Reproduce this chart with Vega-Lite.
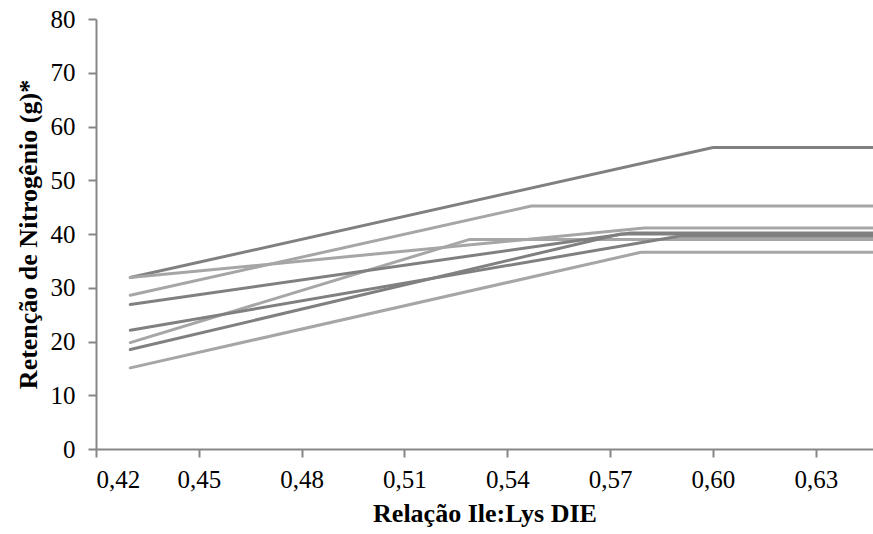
{
  "$schema": "https://vega.github.io/schema/vega-lite/v6.json",
  "width": 777,
  "height": 430,
  "autosize": {"type": "none"},
  "padding": {"left": 96, "top": 19, "right": 0, "bottom": 85},
  "background": "white",
  "config": {
    "view": {"stroke": null},
    "font": "Liberation Serif",
    "axis": {
      "grid": false,
      "domainColor": "#878787",
      "domainWidth": 2,
      "tickColor": "#878787",
      "tickWidth": 2,
      "tickSize": 8,
      "labelFont": "Liberation Serif",
      "labelFontSize": 25,
      "labelColor": "#000000",
      "titleFont": "Liberation Serif",
      "titleFontSize": 26,
      "titleFontWeight": "bold",
      "titleColor": "#000000"
    }
  },
  "data": {
    "values": [
      {"serie": "1", "x": 0.43, "y": 31.9},
      {"serie": "1", "x": 0.6, "y": 56.1},
      {"serie": "1", "x": 0.66, "y": 56.1},
      {"serie": "2", "x": 0.43, "y": 28.6},
      {"serie": "2", "x": 0.547, "y": 45.2},
      {"serie": "2", "x": 0.66, "y": 45.2},
      {"serie": "3", "x": 0.43, "y": 31.9},
      {"serie": "3", "x": 0.58, "y": 41.1},
      {"serie": "3", "x": 0.66, "y": 41.1},
      {"serie": "4", "x": 0.43, "y": 19.8},
      {"serie": "4", "x": 0.529, "y": 39.0},
      {"serie": "4", "x": 0.66, "y": 39.0},
      {"serie": "5", "x": 0.43, "y": 26.9},
      {"serie": "5", "x": 0.576, "y": 40.2},
      {"serie": "5", "x": 0.66, "y": 40.2},
      {"serie": "6", "x": 0.43, "y": 22.1},
      {"serie": "6", "x": 0.59, "y": 39.6},
      {"serie": "6", "x": 0.66, "y": 39.6},
      {"serie": "7", "x": 0.43, "y": 18.5},
      {"serie": "7", "x": 0.573, "y": 40.0},
      {"serie": "7", "x": 0.66, "y": 40.0},
      {"serie": "8", "x": 0.43, "y": 15.1},
      {"serie": "8", "x": 0.579, "y": 36.6},
      {"serie": "8", "x": 0.66, "y": 36.6}
    ]
  },
  "mark": {"type": "line", "strokeWidth": 3, "clip": true, "strokeCap": "round"},
  "encoding": {
    "x": {
      "field": "x",
      "type": "quantitative",
      "scale": {"domain": [0.42, 0.6467], "nice": false, "zero": false},
      "axis": {
        "title": "Relação Ile:Lys DIE",
        "values": [0.42, 0.45, 0.48, 0.51, 0.54, 0.57, 0.6, 0.63],
        "labelExpr": "replace(format(datum.value, '.2f'), '.', ',')",
        "labelPadding": 10,
        "titlePadding": 8
      }
    },
    "y": {
      "field": "y",
      "type": "quantitative",
      "scale": {"domain": [0, 80], "nice": false},
      "axis": {
        "title": "Retenção de Nitrogênio (g)*",
        "values": [0, 10, 20, 30, 40, 50, 60, 70, 80],
        "labelPadding": 13,
        "titlePadding": 9
      }
    },
    "color": {
      "field": "serie",
      "type": "nominal",
      "legend": null,
      "scale": {
        "domain": ["1", "2", "3", "4", "5", "6", "7", "8"],
        "range": ["#808080", "#a6a6a6", "#a6a6a6", "#a6a6a6", "#808080", "#808080", "#808080", "#a6a6a6"]
      }
    }
  }
}
